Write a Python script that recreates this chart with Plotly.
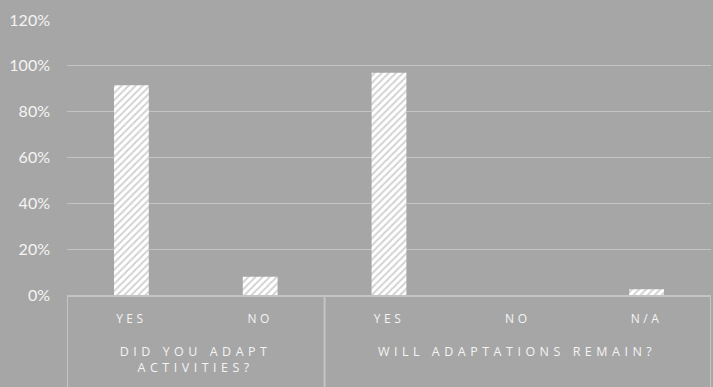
import plotly.graph_objects as go

groups = ["DID YOU ADAPT<br>ACTIVITIES?", "DID YOU ADAPT<br>ACTIVITIES?",
          "WILL ADAPTATIONS REMAIN?", "WILL ADAPTATIONS REMAIN?", "WILL ADAPTATIONS REMAIN?"]
answers = ["YES", "NO", "YES", "NO", "N/A"]
values = [0.915, 0.08, 0.97, 0.0, 0.025]

BG = "#a6a6a6"
LINE = "#c4c4c4"
TXT = "#f4f4f4"

pos = list(range(len(answers)))

fig = go.Figure(go.Bar(
    x=pos,
    y=values,
    width=0.27,
    marker=dict(
        color="white",
        line=dict(width=0),
        pattern=dict(shape="/", fgcolor=BG, bgcolor="white", size=5, solidity=0.4),
    ),
    hoverinfo="skip",
))

# group labels and dividers derived from the group list
spans = []
for i, g in enumerate(groups):
    if spans and spans[-1][0] == g:
        spans[-1][2] = i
    else:
        spans.append([g, i, i])

bounds = [-0.5]
for g, a, b in spans:
    fig.add_annotation(
        x=(a + b) / 2, y=0, xref="x", yref="paper",
        text=g, showarrow=False, yanchor="top", yshift=-46,
        font=dict(size=12.5, color=TXT, family="Open Sans, sans-serif"),
    )
    bounds.append(b + 0.5)

for bx in bounds:
    fig.add_shape(type="line", xref="x", yref="paper", x0=bx, x1=bx, y0=0, y1=-0.34,
                  line=dict(color=LINE, width=2), layer="below")

fig.update_layout(
    width=713, height=387,
    margin=dict(l=67, r=2, t=20, b=92),
    paper_bgcolor=BG, plot_bgcolor=BG,
    showlegend=False,
    font=dict(family="Lato, Carlito, sans-serif", color=TXT),
)
fig.update_yaxes(
    range=[0, 1.2], dtick=0.2, tickformat=".0%",
    showgrid=True, gridcolor=LINE, gridwidth=1,
    zeroline=False, showline=False,
    tickfont=dict(size=16, color=TXT, family="Lato, sans-serif"),
    ticklabelstandoff=16,
)
fig.update_xaxes(
    range=[-0.5, len(answers) - 0.5],
    tickmode="array", tickvals=pos, ticktext=answers,
    showline=True, linecolor=LINE, linewidth=2,
    showgrid=False, zeroline=False,
    tickfont=dict(size=12, color=TXT, family="Open Sans, sans-serif"),
    ticks="",
    ticklabelstandoff=12,
)

post = """
var s=document.createElement('style');
s.innerHTML='.xtick text{letter-spacing:3.5px;} .annotation-text{letter-spacing:4.5px;}';
document.head.appendChild(s);
"""
fig.write_html("out.html", post_script=post)
